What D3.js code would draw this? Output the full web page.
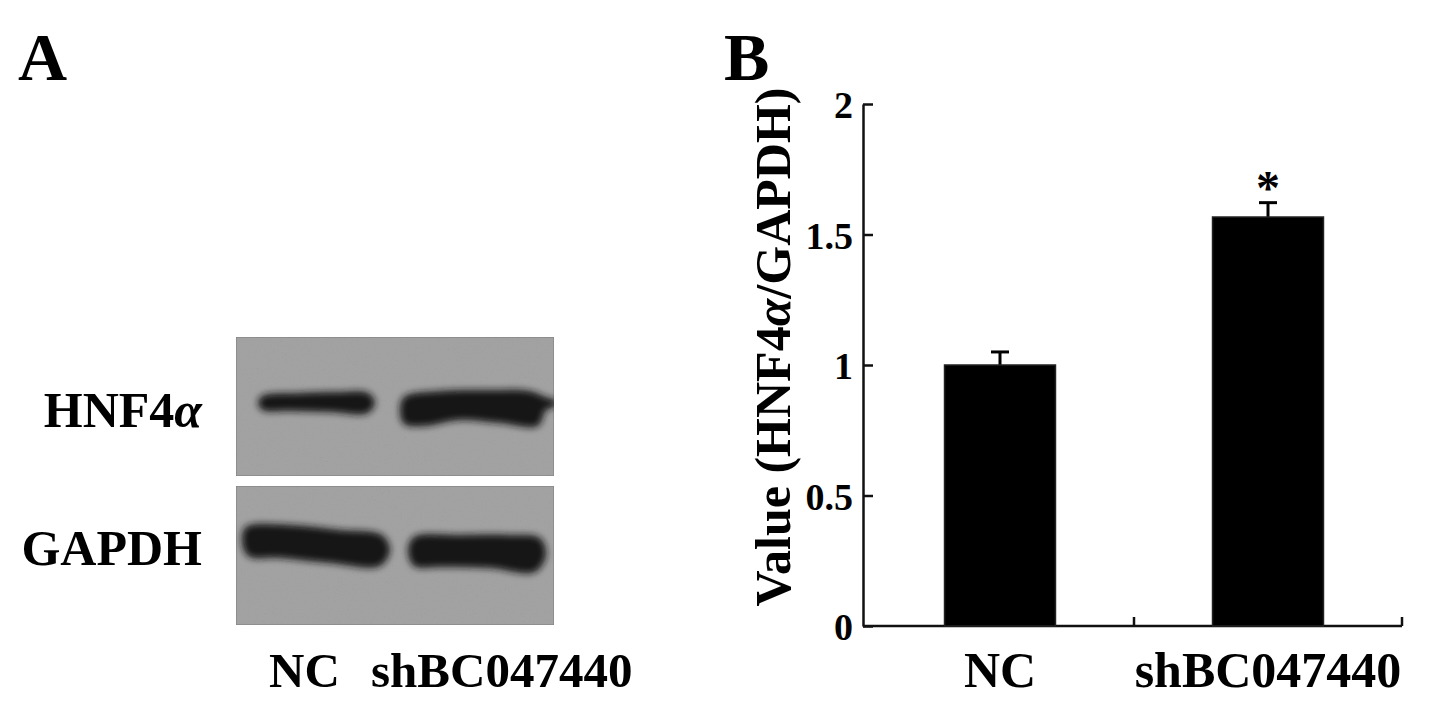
<!DOCTYPE html>
<html>
<head>
<meta charset="utf-8">
<script src="https://cdn.jsdelivr.net/npm/d3@7"></script>
<style>
  body { margin: 0; background: #fff; }
  text { font-family: "Liberation Serif", "Times New Roman", serif; font-weight: bold; fill: #000; }
</style>
</head>
<body>
<div id="fig"></div>
<script>
// values
var categories = ["NC", "shBC047440"];
var values = [1.0, 1.567];
var errors = [0.05, 0.055];
var marks = ["", "*"];
var yTicks = [0, 0.5, 1, 1.5, 2];
var yTickLabels = ["0", "0.5", "1", "1.5", "2"];

// panel A labels
var blotRows = ["HNF4", "GAPDH"];
var blotGreek = ["\u03b1", ""];
var blotLanes = ["NC", "shBC047440"];

var width = 1441, height = 709;

var svg = d3.select("#fig").append("svg")
    .attr("width", width)
    .attr("height", height);

var defs = svg.append("defs");

// grain for the film background
var grain = defs.append("filter").attr("id", "grain")
    .attr("x", 0).attr("y", 0).attr("width", 1).attr("height", 1);
grain.append("feTurbulence").attr("type", "fractalNoise")
    .attr("baseFrequency", 0.75).attr("numOctaves", 2).attr("seed", 7).attr("result", "noise");
grain.append("feColorMatrix").attr("in", "noise").attr("type", "matrix")
    .attr("values", "0.33 0.33 0.33 0 0  0.33 0.33 0.33 0 0  0.33 0.33 0.33 0 0  0 0 0 0 1")
    .attr("result", "gray");
var ct = grain.append("feComponentTransfer").attr("in", "gray").attr("result", "soft");
["feFuncR", "feFuncG", "feFuncB"].forEach(function(f) {
    ct.append(f).attr("type", "linear").attr("slope", 0.4).attr("intercept", 0.82);
});
grain.append("feBlend").attr("in", "SourceGraphic").attr("in2", "soft")
    .attr("mode", "multiply").attr("result", "b");
grain.append("feComposite").attr("in", "b").attr("in2", "SourceGraphic").attr("operator", "in");

var blur = defs.append("filter").attr("id", "blur")
    .attr("x", "-20%").attr("y", "-50%").attr("width", "140%").attr("height", "200%");
blur.append("feGaussianBlur").attr("stdDeviation", 3.6);

// ---------- panel A : blot ----------
var blotX = 236, blotW = 318;
var rowBoxes = [{y: 337, h: 139}, {y: 486, h: 139}];

// band outlines (x, y) going round each band
var bandShapes = [
  [ // HNF4a
    [[262, 396], [300, 393], [340, 392], [368, 393], [375, 402], [368, 413], [330, 412], [290, 411], [262, 410], [258, 403]],
    [[404, 397], [440, 391], [490, 390], [530, 391], [548, 398], [556, 400], [556, 406], [546, 410], [538, 426], [500, 423], [460, 420], [425, 426], [404, 424], [400, 410]]
  ],
  [ // GAPDH
    [[246, 527], [290, 525], [340, 530], [382, 535], [390, 550], [380, 566], [330, 563], [280, 558], [248, 556], [242, 540]],
    [[414, 537], [460, 535], [510, 535], [540, 538], [546, 555], [535, 572], [490, 568], [440, 567], [414, 566], [408, 550]]
  ]
];

var line = d3.line().curve(d3.curveCatmullRomClosed.alpha(0.5));

var blot = svg.append("g");
rowBoxes.forEach(function(b, i) {
    defs.append("clipPath").attr("id", "clip" + i)
      .append("rect").attr("x", blotX).attr("y", b.y).attr("width", blotW).attr("height", b.h);

    blot.append("rect")
        .attr("x", blotX).attr("y", b.y)
        .attr("width", blotW).attr("height", b.h)
        .attr("fill", "#a2a2a2")
        .attr("stroke", "#888")
        .attr("stroke-width", 1.5)
        .attr("filter", "url(#grain)");

    var g = blot.append("g").attr("clip-path", "url(#clip" + i + ")")
      .append("g").attr("filter", "url(#blur)");
    g.selectAll("path").data(bandShapes[i]).enter().append("path")
        .attr("d", function(d) { return line(d); })
        .attr("fill", "#161616");

    var t = svg.append("text")
        .attr("x", 202)
        .attr("y", i === 0 ? 427 : 565)
        .attr("text-anchor", "end")
        .attr("font-size", 50)
        .text(blotRows[i]);
    t.append("tspan").attr("font-style", "italic").text(blotGreek[i]);
});

svg.append("text").attr("x", 269).attr("y", 687).attr("font-size", 49).text(blotLanes[0]);
svg.append("text").attr("x", 371).attr("y", 687).attr("font-size", 49).text(blotLanes[1]);

svg.append("text").attr("x", 18).attr("y", 80).attr("font-size", 68).text("A");
svg.append("text").attr("x", 724).attr("y", 80).attr("font-size", 68).text("B");

// ---------- panel B : bar chart ----------
var axisX = 863;
var y = d3.scaleLinear().domain([0, 2]).range([626, 104]);
var x = d3.scaleBand().domain(categories).range([866, 1402])
    .paddingInner(0.586).paddingOuter(0.293);

var chart = svg.append("g");

var yAxis = chart.append("g")
    .attr("transform", "translate(" + axisX + ",0)")
    .call(d3.axisLeft(y)
        .tickValues(yTicks)
        .tickFormat(function(d, i) { return yTickLabels[i]; })
        .tickSize(-10)
        .tickSizeOuter(0)
        .tickPadding(10));
yAxis.select(".domain").attr("stroke", "#111").attr("stroke-width", 2.5);
yAxis.selectAll(".tick line").attr("stroke", "#111").attr("stroke-width", 2.5);
yAxis.selectAll(".tick text")
    .attr("font-family", "Liberation Serif")
    .attr("font-weight", "bold")
    .attr("font-size", 38)
    .attr("fill", "#000")
    .attr("dy", "0.36em");

// x axis line and group boundary ticks
chart.append("line")
    .attr("x1", axisX).attr("x2", x.range()[1])
    .attr("y1", y(0)).attr("y2", y(0))
    .attr("stroke", "#111").attr("stroke-width", 2.5);

var gap = x.step() - x.bandwidth();
var bounds = categories.map(function(c) { return x(c) + x.bandwidth() + gap / 2; });
chart.selectAll(".xtick").data(bounds).enter().append("line")
    .attr("class", "xtick")
    .attr("x1", function(d) { return d; }).attr("x2", function(d) { return d; })
    .attr("y1", y(0)).attr("y2", y(0) - 9)
    .attr("stroke", "#111").attr("stroke-width", 2.5);

chart.selectAll(".xlab").data(categories).enter().append("text")
    .attr("class", "xlab")
    .attr("x", function(d) { return x(d) + x.bandwidth() / 2; })
    .attr("y", 687)
    .attr("text-anchor", "middle")
    .attr("font-size", 50)
    .text(function(d) { return d; });

// error bars (drawn under the bars)
var eb = chart.selectAll(".err").data(categories).enter().append("g").attr("class", "err");
eb.append("line")
    .attr("x1", function(d) { return x(d) + x.bandwidth() / 2; })
    .attr("x2", function(d) { return x(d) + x.bandwidth() / 2; })
    .attr("y1", function(d, i) { return y(values[i]); })
    .attr("y2", function(d, i) { return y(values[i] + errors[i]); })
    .attr("stroke", "#000").attr("stroke-width", 3);
eb.append("line")
    .attr("x1", function(d) { return x(d) + x.bandwidth() / 2 - 9; })
    .attr("x2", function(d) { return x(d) + x.bandwidth() / 2 + 9; })
    .attr("y1", function(d, i) { return y(values[i] + errors[i]); })
    .attr("y2", function(d, i) { return y(values[i] + errors[i]); })
    .attr("stroke", "#000").attr("stroke-width", 3);

chart.selectAll(".bar").data(categories).enter().append("rect")
    .attr("class", "bar")
    .attr("x", function(d) { return x(d); })
    .attr("y", function(d, i) { return y(values[i]); })
    .attr("width", x.bandwidth())
    .attr("height", function(d, i) { return y(0) - y(values[i]); })
    .attr("fill", "#000")
    .attr("stroke", "#222")
    .attr("stroke-width", 1.5);

chart.selectAll(".sig").data(categories).enter().append("text")
    .attr("class", "sig")
    .attr("x", function(d) { return x(d) + x.bandwidth() / 2; })
    .attr("y", function(d, i) { return y(values[i] + errors[i]) + 1; })
    .attr("text-anchor", "middle")
    .attr("font-size", 48)
    .text(function(d, i) { return marks[i]; });

// y axis title
var yt = svg.append("text")
    .attr("transform", "translate(790,347) rotate(-90)")
    .attr("text-anchor", "middle")
    .attr("font-size", 50);
yt.append("tspan").text("Value (HNF4");
yt.append("tspan").attr("font-style", "italic").text("\u03b1");
yt.append("tspan").text("/GAPDH)");
</script>
</body>
</html>
